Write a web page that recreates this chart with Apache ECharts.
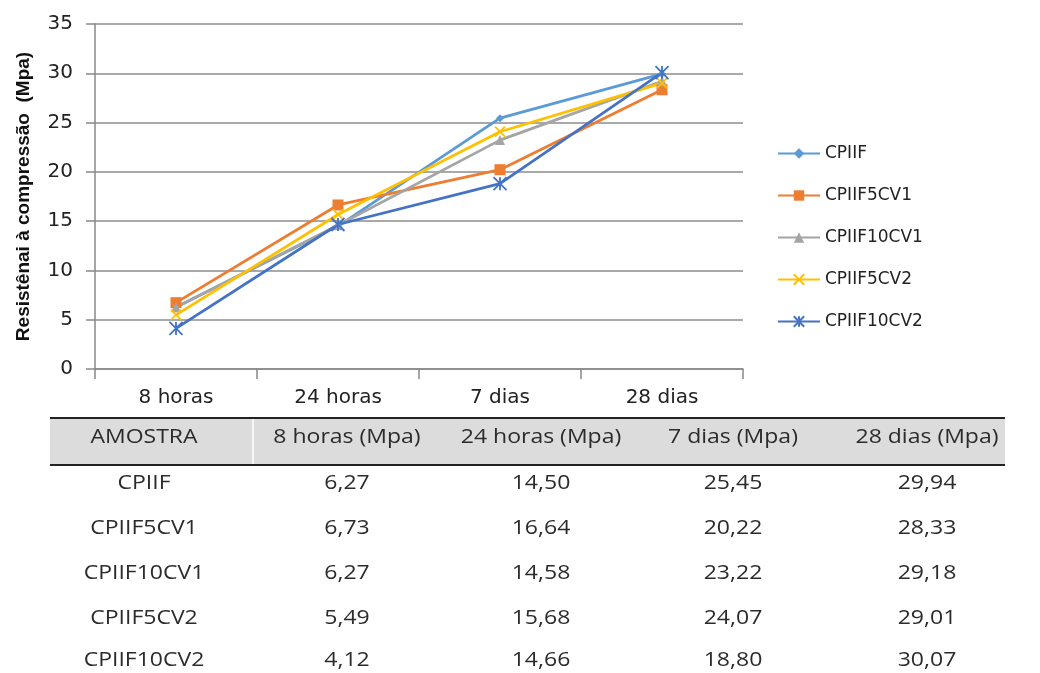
<!DOCTYPE html>
<html><head><meta charset="utf-8">
<script src="https://cdn.jsdelivr.net/npm/echarts@6/dist/echarts.min.js"></script>
<style>html,body{margin:0;padding:0;background:#fff}#c{width:1040px;height:673px}</style>
</head><body><div id="c"></div>
<script>
const categories = ['8 horas', '24 horas', '7 dias', '28 dias'];
const tableHeaders = ['AMOSTRA', '8 horas (Mpa)', '24 horas (Mpa)', '7 dias (Mpa)', '28 dias (Mpa)'];
const seriesNames = ['CPIIF', 'CPIIF5CV1', 'CPIIF10CV1', 'CPIIF5CV2', 'CPIIF10CV2'];
const CPIIF      = [6.27, 14.50, 25.45, 29.94];
const CPIIF5CV1  = [6.73, 16.64, 20.22, 28.33];
const CPIIF10CV1 = [6.27, 14.58, 23.22, 29.18];
const CPIIF5CV2  = [5.49, 15.68, 24.07, 29.01];
const CPIIF10CV2 = [4.12, 14.66, 18.80, 30.07];
const yTicks = [0, 5, 10, 15, 20, 25, 30, 35];

const values = [CPIIF, CPIIF5CV1, CPIIF10CV1, CPIIF5CV2, CPIIF10CV2];
const colors = ['#5B9BD5', '#ED7D31', '#A5A5A5', '#FFC000', '#4472C4'];
const symbols = ['diamond', 'rect', 'triangle', 'path://M0,0L10,10M10,0L0,10', 'path://M0,0L10,10M10,0L0,10M5,0L5,10'];
const symSizes = [8, 11, 10, 10, 13];

const chart = echarts.init(document.getElementById('c'));
const fmt = v => v.toFixed(2).replace('.', ',');

// table graphics
const colX = [144, 347, 541, 733, 927];
const tableLeft = 50, tableRight = 1005, tableTop = 418, headerBottom = 465;
const rowY = [483, 528, 573, 618, 660];
const tFont = '20px "Open Sans", sans-serif';
const g = [];
g.push({type:'rect', shape:{x:tableLeft, y:tableTop, width:tableRight-tableLeft, height:headerBottom-tableTop}, style:{fill:'#DCDCDC'}, silent:true});
g.push({type:'line', shape:{x1:253, y1:tableTop, x2:253, y2:headerBottom}, style:{stroke:'#FFFFFF', lineWidth:1.5}});
g.push({type:'line', shape:{x1:tableLeft, y1:tableTop, x2:tableRight, y2:tableTop}, style:{stroke:'#222', lineWidth:2}});
g.push({type:'line', shape:{x1:tableLeft, y1:headerBottom, x2:tableRight, y2:headerBottom}, style:{stroke:'#222', lineWidth:2}});
const txt = (s, x, y) => ({type:'text', x:x, y:y, scaleX:1.15, style:{text:s, fill:'#2b2b2b', font:tFont, align:'center', verticalAlign:'middle'}});
tableHeaders.forEach((h, i) => g.push(txt(h, colX[i], 437)));
seriesNames.forEach((n, r) => {
  g.push(txt(n, colX[0], rowY[r]));
  values[r].forEach((v, c) => g.push(txt(fmt(v), colX[c+1], rowY[r])));
});

chart.setOption({
  animation: false,
  backgroundColor: '#fff',
  grid: {left: 95, right: 297, top: 24, bottom: 304},
  legend: {
    orient: 'vertical', left: 777, top: 145, padding: 0, itemGap: 25, itemWidth: 42, itemHeight: 13,
    textStyle: {fontFamily: 'DejaVu Sans', fontSize: 17, color: '#222'},
    data: seriesNames
  },
  xAxis: {
    type: 'category', data: categories, boundaryGap: true,
    axisLine: {lineStyle: {color: '#888', width: 1.5}},
    axisTick: {show: true, length: 10, lineStyle: {color: '#888', width: 1.5}},
    axisLabel: {fontFamily: 'DejaVu Sans', fontSize: 20, color: '#222', margin: 19}
  },
  yAxis: {
    type: 'value', min: yTicks[0], max: yTicks[yTicks.length-1], interval: 5,
    name: 'Resistênai à compressão  (Mpa)', nameLocation: 'middle', nameGap: 62,
    nameTextStyle: {fontFamily: 'Liberation Sans', fontSize: 19, fontWeight: 'bold', color: '#111'},
    axisLine: {show: true, lineStyle: {color: '#888', width: 1.5}},
    axisTick: {show: true, length: 9, lineStyle: {color: '#888', width: 1.5}},
    axisLabel: {fontFamily: 'DejaVu Sans', fontSize: 20, color: '#222', margin: 22},
    splitLine: {lineStyle: {color: '#8c8c8c', width: 1.5}}
  },
  series: seriesNames.map((n, i) => ({
    name: n, type: 'line', data: values[i], color: colors[i],
    symbol: symbols[i], symbolSize: symSizes[i], showAllSymbol: true,
    lineStyle: {color: colors[i], width: 2.8},
    itemStyle: {color: colors[i], borderColor: colors[i], borderWidth: i >= 3 ? 1.8 : 0}
  })),
  graphic: g
});
</script></body></html>
